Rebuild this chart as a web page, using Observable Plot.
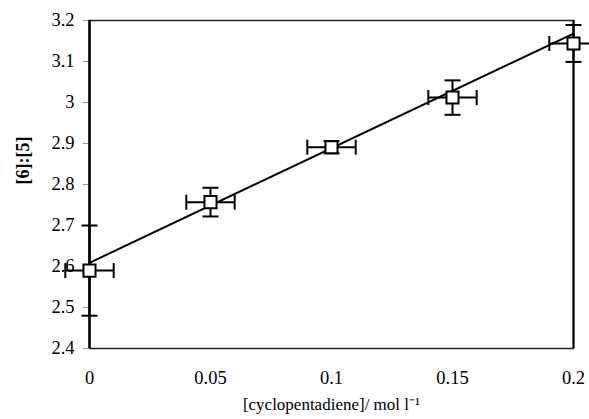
<!DOCTYPE html>
<html>
<head>
<meta charset="utf-8">
<script src="https://cdn.jsdelivr.net/npm/d3@7"></script>
<script src="https://cdn.jsdelivr.net/npm/@observablehq/plot@0.6"></script>
<style>
  html, body { margin: 0; padding: 0; background: #fff; }
  #chart svg { display: block; }
  #chart svg text { font-family: 'Liberation Serif' !important; }
</style>
</head>
<body>
<div id="chart"></div>
<script>
// Data
const conc   = [0, 0.05, 0.1, 0.15, 0.2];          // [cyclopentadiene] / mol l^-1
const ratio  = [2.59, 2.757, 2.891, 3.012, 3.144]; // [6]:[5]
const xErr   = [0.01, 0.01, 0.01, 0.01, 0.01];
const yErr   = [0.11, 0.035, 0.015, 0.042, 0.045];
const fitX   = [0, 0.2];
const fitY   = [2.609, 3.168];
const yTicks = [2.4, 2.5, 2.6, 2.7, 2.8, 2.9, 3.0, 3.1, 3.2];
const xTicks = [0, 0.05, 0.1, 0.15, 0.2];
const xTitle = "[cyclopentadiene]/ mol l\u207B\u00B9";
const yTitle = "[6]:[5]";

const pts = conc.map((x, i) => ({x, y: ratio[i], ex: xErr[i], ey: yErr[i]}));
const fit = fitX.map((x, i) => ({x, y: fitY[i]}));

// custom symbols for error-bar caps
const vCap = {draw(ctx, size) { const r = Math.sqrt(size / Math.PI); ctx.moveTo(0, -r); ctx.lineTo(0, r); }};
const hCap = {draw(ctx, size) { const r = Math.sqrt(size / Math.PI); ctx.moveTo(-r, 0); ctx.lineTo(r, 0); }};

const chart = Plot.plot({
  width: 589,
  height: 419,
  marginLeft: 89,
  marginRight: 16,
  marginTop: 20,
  marginBottom: 71,
  style: {fontSize: "18.5px", color: "#000", background: "#fff"},
  x: {domain: [0, 0.2], ticks: xTicks, tickFormat: d => String(d), tickSize: 0, tickPadding: 22, label: null},
  y: {domain: [2.4, 3.2], ticks: yTicks, tickFormat: d => String(+d.toFixed(1)), tickSize: 0, tickPadding: 15, label: null},
  marks: [
    Plot.frame({stroke: "#222", strokeWidth: 1.5}),
    Plot.ruleY(yTicks, {y: d => d, x1: -0.0025, x2: 0, stroke: "#999", strokeWidth: 1}),
    Plot.ruleX([0], {stroke: "#000", strokeWidth: 2.5}),
    Plot.ruleX([0.2], {stroke: "#000", strokeWidth: 2}),
    // error bars
    Plot.link(pts, {x1: d => d.x - d.ex, x2: d => d.x + d.ex, y1: "y", y2: "y", stroke: "#000", strokeWidth: 2}),
    Plot.link(pts, {x1: "x", x2: "x", y1: d => d.y - d.ey, y2: d => d.y + d.ey, stroke: "#000", strokeWidth: 2}),
    Plot.dot(pts, {x: d => d.x - d.ex, y: "y", symbol: vCap, r: 7.5, stroke: "#000", strokeWidth: 2, fill: "none"}),
    Plot.dot(pts, {x: d => d.x + d.ex, y: "y", symbol: vCap, r: 7.5, stroke: "#000", strokeWidth: 2, fill: "none"}),
    Plot.dot(pts, {x: "x", y: d => d.y - d.ey, symbol: hCap, r: 8, stroke: "#000", strokeWidth: 2, fill: "none"}),
    Plot.dot(pts, {x: "x", y: d => d.y + d.ey, symbol: hCap, r: 8, stroke: "#000", strokeWidth: 2, fill: "none"}),
    // fitted line
    Plot.line(fit, {x: "x", y: "y", stroke: "#000", strokeWidth: 2}),
    // markers
    Plot.dot(pts, {x: "x", y: "y", symbol: "square", r: 6.8, fill: "#fff", stroke: "#000", strokeWidth: 2}),
    // axis titles
    Plot.text([xTitle], {text: d => d, frameAnchor: "bottom", dy: 61, fontSize: 17, fill: "#000"}),
    Plot.text([yTitle], {text: d => d, frameAnchor: "left", dx: -66, rotate: -90, fontSize: 18, fontWeight: "bold", fill: "#000"})
  ]
});
chart.setAttribute("font-family", "Liberation Serif");
chart.querySelectorAll("g, text").forEach(e => e.setAttribute("font-family", "Liberation Serif"));
const st = document.createElementNS("http://www.w3.org/2000/svg", "style");
st.textContent = "text { font-family: 'Liberation Serif' !important; }";
chart.insertBefore(st, chart.firstChild);
document.getElementById("chart").appendChild(chart);
</script>
</body>
</html>
